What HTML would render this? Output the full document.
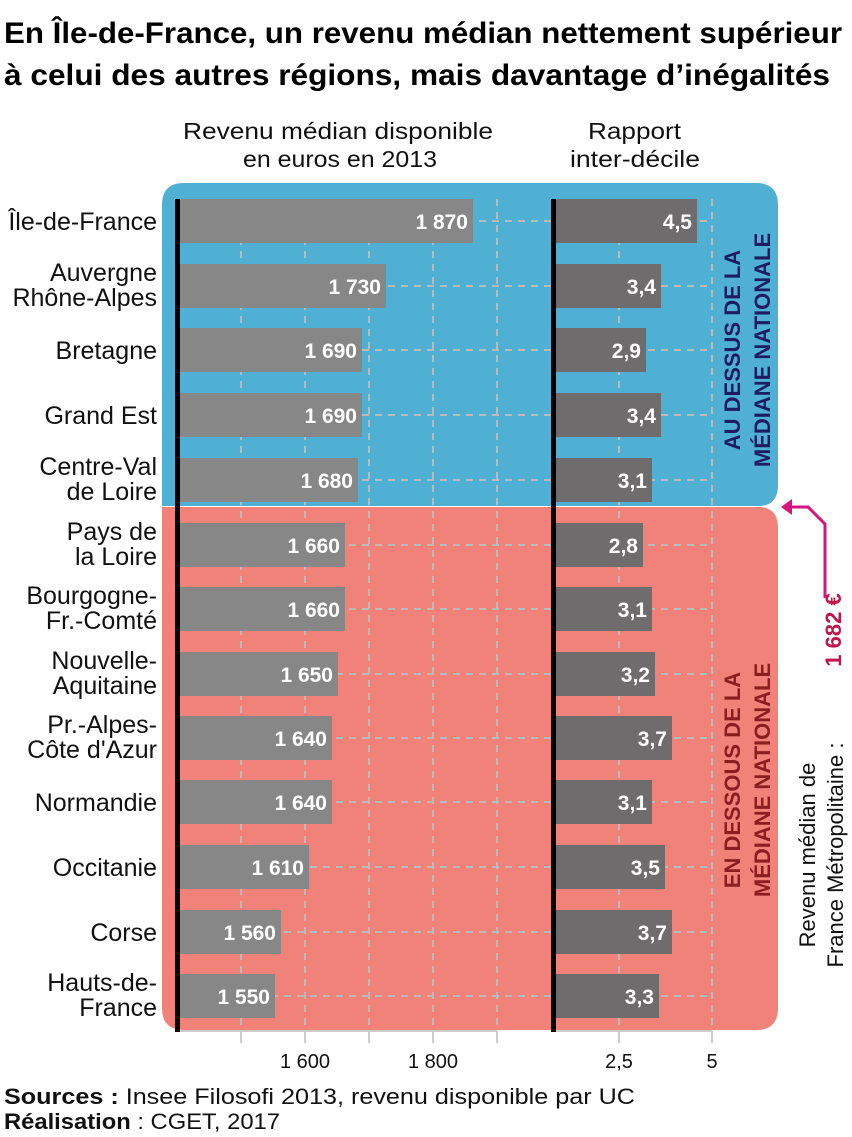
<!DOCTYPE html>
<html><head><meta charset="utf-8"><style>
body{margin:0;background:#fff}
svg{display:block}
text{font-family:"Liberation Sans",sans-serif}
</style></head><body>
<svg width="852" height="1137" viewBox="0 0 852 1137" xmlns="http://www.w3.org/2000/svg">
<text x="4" y="43" font-size="30" font-weight="bold" textLength="838" lengthAdjust="spacingAndGlyphs">En Île-de-France, un revenu médian nettement supérieur</text>
<text x="4" y="85" font-size="30" font-weight="bold" textLength="826" lengthAdjust="spacingAndGlyphs">à celui des autres régions, mais davantage d’inégalités</text>
<g font-size="23" fill="#111">
<text x="183" y="139" textLength="310" lengthAdjust="spacingAndGlyphs">Revenu médian disponible</text>
<text x="243" y="167" textLength="194" lengthAdjust="spacingAndGlyphs">en euros en 2013</text>
<text x="588" y="139" textLength="93" lengthAdjust="spacingAndGlyphs">Rapport</text>
<text x="570" y="167" textLength="130" lengthAdjust="spacingAndGlyphs">inter-décile</text>
</g>
<path d="M184 183 H756 Q778 183 778 205 V485 Q778 505 760 506 H162 V205 Q162 183 184 183Z" fill="#4fb0d3"/>
<path d="M162 507 H760 Q778 508 778 528 V1008 Q778 1030 756 1030 H184 Q162 1030 162 1008Z" fill="#f0827a"/>
<g stroke="#bbb" stroke-width="2" stroke-dasharray="7,6">
<path d="M241 199V1030M305 199V1030M369 199V1030M433 199V1030M497 199V1030M619 199V1030M712 199V1030"/>
<path d="M180 221H712M180 286H712M180 350H712M180 415H712M180 480H712M180 545H712M180 609H712M180 674H712M180 738H712M180 802H712M180 867H712M180 932H712M180 996H712"/>
</g>
<g stroke="#ccc" stroke-width="2"><path d="M180 1031H497M556 1031H712M241 1031V1043M305 1031V1043M369 1031V1043M433 1031V1043M497 1031V1043M619 1031V1043M712 1031V1043"/></g>
<g fill="#878787">
<rect x="180" y="199" width="293" height="44"/><rect x="180" y="264" width="206" height="44"/><rect x="180" y="328" width="182" height="44"/><rect x="180" y="393" width="182" height="44"/><rect x="180" y="458" width="178" height="44"/><rect x="180" y="523" width="165" height="44"/><rect x="180" y="587" width="165" height="44"/><rect x="180" y="652" width="158" height="44"/><rect x="180" y="716" width="152" height="44"/><rect x="180" y="780" width="152" height="44"/><rect x="180" y="845" width="129" height="44"/><rect x="180" y="910" width="101" height="44"/><rect x="180" y="974" width="95" height="44"/>
</g>
<g fill="#6e6c6d">
<rect x="556" y="199" width="141" height="44"/><rect x="556" y="264" width="105" height="44"/><rect x="556" y="328" width="90" height="44"/><rect x="556" y="393" width="105" height="44"/><rect x="556" y="458" width="96" height="44"/><rect x="556" y="523" width="87" height="44"/><rect x="556" y="587" width="96" height="44"/><rect x="556" y="652" width="99" height="44"/><rect x="556" y="716" width="116" height="44"/><rect x="556" y="780" width="96" height="44"/><rect x="556" y="845" width="109" height="44"/><rect x="556" y="910" width="116" height="44"/><rect x="556" y="974" width="103" height="44"/>
</g>
<rect x="175" y="199" width="5" height="833" fill="#000"/>
<rect x="551" y="199" width="5" height="833" fill="#000"/>
<g fill="#fff" font-size="21" font-weight="bold" text-anchor="end">
<text x="468" y="229">1 870</text><text x="381" y="294">1 730</text><text x="357" y="358">1 690</text><text x="357" y="423">1 690</text><text x="353" y="488">1 680</text><text x="340" y="553">1 660</text><text x="340" y="617">1 660</text><text x="333" y="682">1 650</text><text x="327" y="746">1 640</text><text x="327" y="810">1 640</text><text x="304" y="875">1 610</text><text x="276" y="940">1 560</text><text x="270" y="1004">1 550</text>
<text x="692" y="229">4,5</text><text x="656" y="294">3,4</text><text x="641" y="358">2,9</text><text x="656" y="423">3,4</text><text x="647" y="488">3,1</text><text x="638" y="553">2,8</text><text x="647" y="617">3,1</text><text x="650" y="682">3,2</text><text x="667" y="746">3,7</text><text x="647" y="810">3,1</text><text x="660" y="875">3,5</text><text x="667" y="940">3,7</text><text x="654" y="1004">3,3</text>
</g>
<g fill="#111" font-size="25" text-anchor="end">
<text x="157" y="230">Île-de-France</text>
<text x="157" y="281">Auvergne</text><text x="157" y="306">Rhône-Alpes</text>
<text x="157" y="359">Bretagne</text>
<text x="157" y="424">Grand Est</text>
<text x="157" y="475">Centre-Val</text><text x="157" y="500">de Loire</text>
<text x="157" y="540">Pays de</text><text x="157" y="565">la Loire</text>
<text x="157" y="604">Bourgogne-</text><text x="157" y="629">Fr.-Comté</text>
<text x="157" y="669">Nouvelle-</text><text x="157" y="694">Aquitaine</text>
<text x="157" y="733">Pr.-Alpes-</text><text x="157" y="758">Côte d'Azur</text>
<text x="157" y="811">Normandie</text>
<text x="157" y="876">Occitanie</text>
<text x="157" y="941">Corse</text>
<text x="157" y="991">Hauts-de-</text><text x="157" y="1016">France</text>
</g>
<g font-size="22" font-weight="bold" text-anchor="middle">
<g transform="translate(0,350) rotate(-90)" fill="#1c1c5e"><text x="0" y="740">AU DESSUS DE LA</text><text x="0" y="770">MÉDIANE NATIONALE</text></g>
<g transform="translate(0,780) rotate(-90)" fill="#8a1e1e"><text x="0" y="740">EN DESSOUS DE LA</text><text x="0" y="770">MÉDIANE NATIONALE</text></g>
<g transform="translate(0,630) rotate(-90)" fill="#c4154b"><text x="0" y="841">1 682 €</text></g>
</g>
<g font-size="22" text-anchor="middle" fill="#111" transform="translate(0,855) rotate(-90)">
<text x="0" y="815">Revenu médian de</text><text x="0" y="843">France Métropolitaine :</text>
</g>
<path d="M787 507H808L825 524V598" fill="none" stroke="#d6147e" stroke-width="3"/>
<path d="M781 507L792 499V515Z" fill="#d6147e"/>
<g font-size="20" text-anchor="middle" fill="#111">
<text x="305" y="1068">1 600</text><text x="433" y="1068">1 800</text><text x="619" y="1068">2,5</text><text x="712" y="1068">5</text>
</g>
<g font-size="22" fill="#111">
<text x="4" y="1104" textLength="631" lengthAdjust="spacingAndGlyphs"><tspan font-weight="bold">Sources :</tspan> Insee Filosofi 2013, revenu disponible par UC</text>
<text x="4" y="1129" textLength="276" lengthAdjust="spacingAndGlyphs"><tspan font-weight="bold">Réalisation</tspan> : CGET, 2017</text>
</g>
</svg>
</body></html>
